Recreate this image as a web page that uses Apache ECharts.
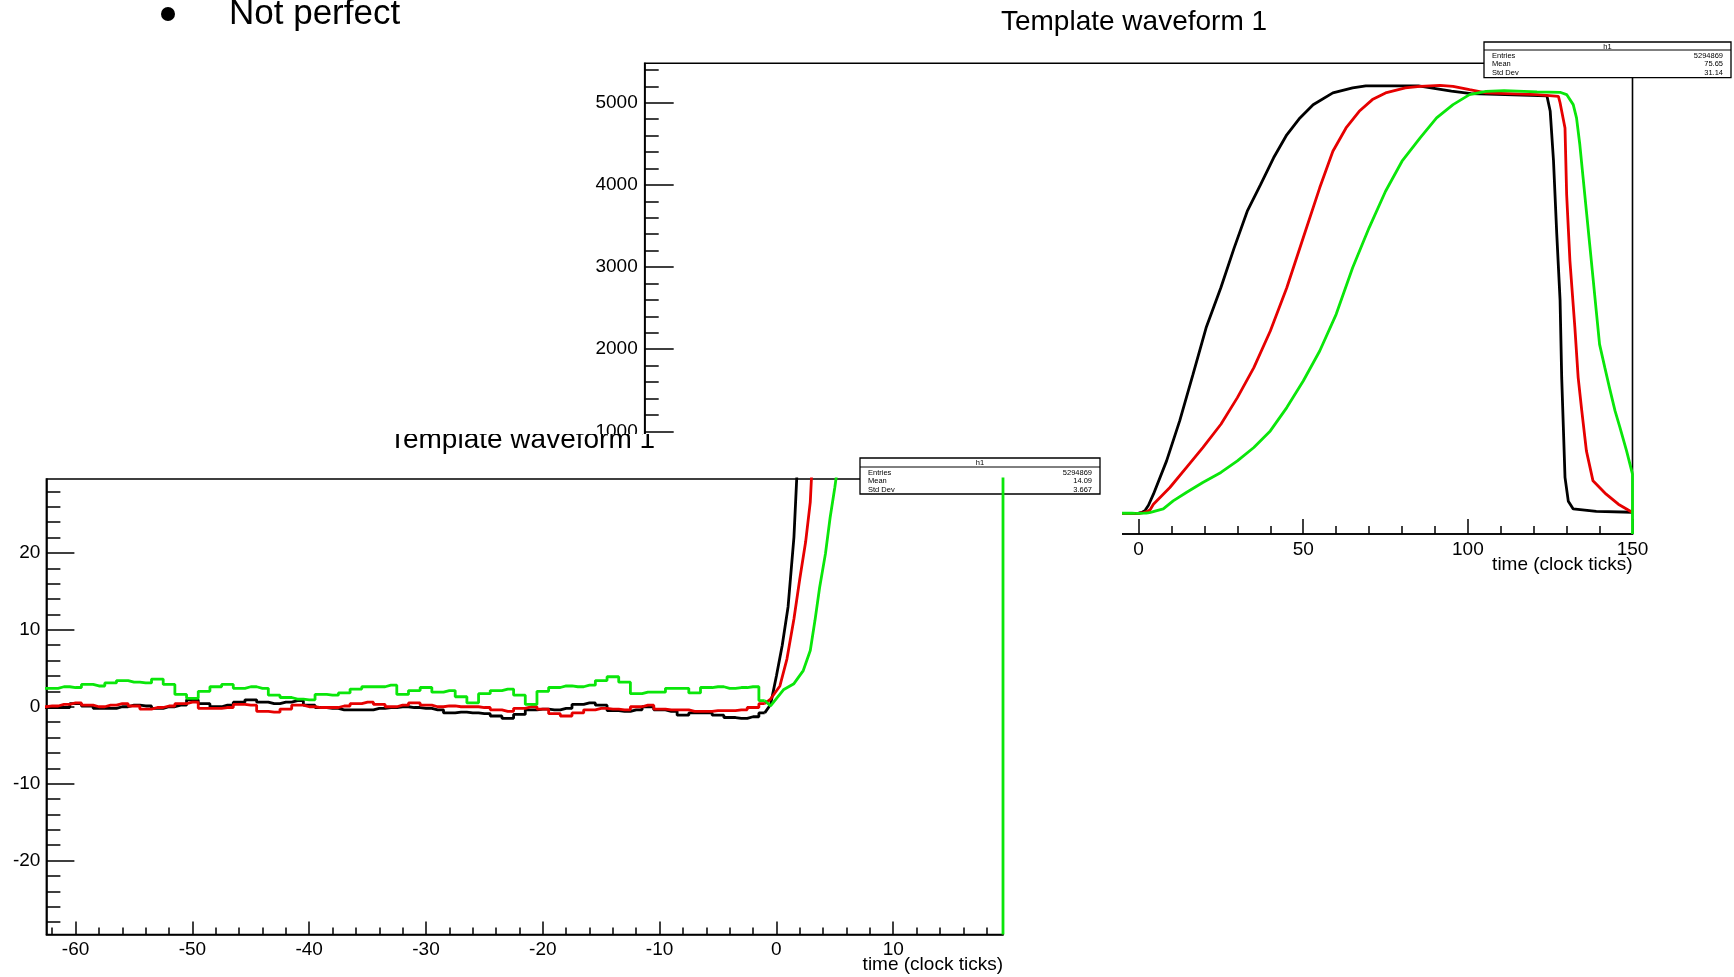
<!DOCTYPE html>
<html>
<head>
<meta charset="utf-8">
<script src="https://cdn.jsdelivr.net/npm/echarts@6/dist/echarts.min.js"></script>
<style>
  html, body { margin: 0; padding: 0; background: #ffffff; }
  #main { width: 1734px; height: 977px; }
</style>
</head>
<body>
<div id="main"></div>
<script>
// ---- waveform samples (time in clock ticks, amplitude in ADC counts) ----
const noiseTicks = [-63, -62, -61, -60, -59, -58, -57, -56, -55, -54, -53, -52, -51, -50, -49, -48,
  -47, -46, -45, -44, -43, -42, -41, -40, -39, -38, -37, -36, -35, -34, -33, -32, -31, -30, -29,
  -28, -27, -26, -25, -24, -23, -22, -21, -20, -19, -18, -17, -16, -15, -14, -13, -12, -11, -10,
  -9, -8, -7, -6, -5, -4, -3, -2, -1];

const blackNoise = [-0.1, -0.1, -0.1, 0.4, 0.1, -0.2, -0.2, 0.0, 0.2, 0.1,
  -0.2, 0.0, 0.2, 0.9, 0.4, 0.0, 0.2, 0.6, 0.9, 0.6,
  0.4, 0.6, 0.8, 0.2, -0.1, -0.2, -0.4, -0.4, -0.4, -0.2,
  -0.1, 0.0, -0.1, -0.2, -0.4, -0.8, -0.7, -0.8, -0.9, -1.2,
  -1.5, -1.0, -0.4, -0.3, -0.4, -0.2, 0.3, 0.5, 0.2, -0.5,
  -0.6, -0.4, 0.0, -0.4, -0.6, -1.1, -0.8, -0.8, -1.1, -1.4,
  -1.5, -1.3, -0.8];
const redNoise = [0.0, 0.1, 0.3, 0.5, 0.2, 0.0, 0.2, 0.4, 0.1, -0.3,
  -0.1, 0.1, 0.4, 0.6, -0.2, -0.2, -0.1, 0.3, 0.2, -0.6,
  -0.7, -0.3, 0.2, 0.0, -0.1, -0.1, 0.1, 0.4, 0.6, 0.3,
  0.0, 0.2, 0.5, 0.2, 0.0, 0.1, 0.0, 0.0, -0.1, -0.4,
  -0.6, -0.2, 0.0, -0.3, -0.9, -1.2, -0.8, -0.4, -0.2, -0.3,
  -0.4, 0.0, 0.2, -0.3, -0.4, -0.4, -0.6, -0.6, -0.5, -0.5,
  -0.4, -0.1, 0.4];
const greenNoise = [2.4, 2.4, 2.6, 2.5, 2.9, 2.7, 3.1, 3.4, 3.2, 3.1,
  3.6, 2.9, 1.6, 1.1, 2.0, 2.6, 2.9, 2.4, 2.6, 2.4,
  1.5, 1.2, 1.0, 0.9, 1.6, 1.5, 1.8, 2.3, 2.6, 2.6,
  2.8, 1.6, 2.1, 2.5, 1.9, 2.1, 1.3, 0.5, 1.7, 2.1,
  2.3, 1.5, 0.3, 2.0, 2.5, 2.7, 2.6, 2.8, 3.4, 3.9,
  3.2, 1.7, 1.9, 1.9, 2.4, 2.4, 1.8, 2.5, 2.6, 2.4,
  2.5, 2.6, 0.8];

const blackPulseT = [-0.5, 0, 0.5, 1, 1.5, 2, 3, 4.5, 8.5, 12.5, 16.5, 20.5, 25, 29, 33, 37, 41, 45, 49,
  53, 59, 65, 69, 85, 95, 101, 124, 125, 126, 127, 128, 128.5, 129, 129.5, 130.5, 132, 139, 150];
const blackPulseV = [0.3, 4, 8, 13, 22, 38, 100, 235, 640, 1130, 1690, 2260, 2750, 3230, 3680, 4000,
  4330, 4610, 4815, 4975, 5120, 5180, 5205, 5205, 5140, 5110, 5085, 4900, 4300, 3400, 2600, 1650,
  1050, 440, 150, 55, 25, 15];

const redPulseT = [-0.5, 0.3, 0.9, 1.5, 2, 2.5, 2.9, 3.5, 4.5, 9.5, 14.5, 19.5, 25, 30, 35, 40, 45, 50,
  55, 59, 63, 67, 71, 75, 81, 85.5, 91.5, 95.5, 100.5, 105.5, 121, 127.5, 128, 129.5, 130, 131, 132.5,
  133.5, 134.6, 136, 138, 142, 145.7, 150];
const redPulseV = [1.0, 2.7, 6.2, 11.4, 16.6, 21.4, 26.6, 45, 113, 316, 559, 802, 1086, 1410, 1775,
  2221, 2748, 3356, 3964, 4410, 4693, 4896, 5038, 5119, 5180, 5200, 5212, 5200, 5159, 5119, 5099,
  5078, 5000, 4693, 3883, 3072, 2262, 1654, 1248, 762, 397, 235, 113, 12];

const greenPulseT = [-0.5, 0.6, 1.5, 2.3, 2.9, 3.3, 3.7, 4.2, 4.6, 5.0, 5.5, 7.5, 10.5, 14.5, 19.5, 25,
  30, 35, 40, 45, 50, 55, 60, 65, 70, 75, 80, 85.5, 90.5, 95.5, 100.5, 105.5, 111, 121, 128, 130, 132,
  133, 134, 135, 136, 137, 138, 139, 140, 141.6, 143, 144.7, 146.2, 148.2, 150];
const greenPulseV = [0.1, 2.2, 3.0, 4.7, 7.3, 11.2, 15.5, 19.9, 24.6, 28.5, 34, 55, 154, 255, 377,
  499, 640, 803, 1005, 1289, 1613, 1978, 2424, 2991, 3477, 3923, 4288, 4572, 4815, 4977, 5099, 5139,
  5147, 5131, 5127, 5099, 4977, 4815, 4491, 4085, 3680, 3275, 2870, 2464, 2059, 1775, 1532, 1248,
  1046, 762, 478];

// ---- axis ranges and tick labels ----
const fullRange = { xMin: -150, xMax: 150, yMin: -250, yMax: 5480 };
const zoomRange = { xMin: -62.5, xMax: 19.4, yMin: -29.6, yMax: 29.6 };
const fullYMajor = [1000, 2000, 3000, 4000, 5000];
const fullYMinor = [-200, 200, 400, 600, 800, 1200, 1400, 1600, 1800, 2200, 2400, 2600, 2800, 3200,
  3400, 3600, 3800, 4200, 4400, 4600, 4800, 5200, 5400];
const zoomXMajor = [-60, -50, -40, -30, -20, -10, 0, 10];
const zoomXMinor = [-62, -58, -56, -54, -52, -48, -46, -44, -42, -38, -36, -34, -32, -28, -26, -24,
  -22, -18, -16, -14, -12, -8, -6, -4, -2, 2, 4, 6, 8, 12, 14, 16, 18];
const zoomYMajor = [-20, -10, 0, 10, 20];
const zoomYMinor = [-28, -26, -24, -22, -18, -16, -14, -12, -8, -6, -4, -2, 2, 4, 6, 8, 12, 14, 16, 18,
  22, 24, 26, 28];

const plotTitle = 'Template waveform 1';
const axisTitle = 'time (clock ticks)';
const bulletText = 'Not perfect';
const statsFull = { name: 'h1', entries: '5294869', mean: '75.65', stdDev: '31.14' };
const statsZoom = { name: 'h1', entries: '5294869', mean: '14.09', stdDev: '3.667' };

const FONT = '"Liberation Sans", Arial, Helvetica, sans-serif';
const COLORS = { black: '#000000', red: '#e60000', green: '#0ae60a' };

const traces = [
  { color: COLORS.black, noise: blackNoise, pt: blackPulseT, pv: blackPulseV, edgeDrop: false },
  { color: COLORS.red, noise: redNoise, pt: redPulseT, pv: redPulseV, edgeDrop: false },
  { color: COLORS.green, noise: greenNoise, pt: greenPulseT, pv: greenPulseV, edgeDrop: true }
];

function pairs(ts, vs) { return ts.map((t, i) => [t, vs[i]]); }

// histogram outline: for the last trace, ROOT closes the contour down to the frame floor at the right edge
function pulseData(tr, range) {
  const lastNoise = [noiseTicks[noiseTicks.length - 1], tr.noise[tr.noise.length - 1]];
  let pts = [lastNoise].concat(pairs(tr.pt, tr.pv));
  if (tr.edgeDrop) {
    const cut = tr.pt.findIndex(t => t > range.xMax);
    if (cut >= 0) {
      pts = [lastNoise].concat(pairs(tr.pt.slice(0, cut), tr.pv.slice(0, cut)));
      pts.push([range.xMax, tr.pv[cut]]);
    }
    pts.push([range.xMax, range.yMin]);
  }
  return pts;
}

const series = [];
traces.forEach(tr => {
  // full-range view
  series.push({ type: 'line', xAxisIndex: 0, yAxisIndex: 0, z: 2, step: 'middle',
    data: pairs(noiseTicks, tr.noise), showSymbol: false, symbol: 'none', silent: true,
    lineStyle: { color: tr.color, width: 2.8 } });
  series.push({ type: 'line', xAxisIndex: 0, yAxisIndex: 0, z: 2,
    data: pulseData(tr, fullRange), showSymbol: false, symbol: 'none', silent: true,
    lineStyle: { color: tr.color, width: 2.8 } });
});

// backdrop of the zoomed view with its (partly hidden) title
series.push({
  type: 'custom', xAxisIndex: 3, yAxisIndex: 4, z: 5, clip: true, silent: true,
  data: [[0, 0]],
  renderItem: function (params, api) {
    const cs = params.coordSys;
    return {
      type: 'group',
      children: [
        { type: 'rect', shape: { x: cs.x, y: cs.y, width: cs.width, height: cs.height },
          style: { fill: '#ffffff' } },
        { type: 'text', x: 522, y: 440,
          style: { text: plotTitle, fill: '#000', fontSize: 28, fontFamily: FONT,
            align: 'center', verticalAlign: 'middle', textAlign: 'center', textVerticalAlign: 'middle' } }
      ]
    };
  }
});

traces.forEach(tr => {
  // zoomed view around the pulse onset
  series.push({ type: 'line', xAxisIndex: 1, yAxisIndex: 2, z: 8, step: 'middle',
    data: pairs(noiseTicks, tr.noise), showSymbol: false, symbol: 'none', silent: true,
    lineStyle: { color: tr.color, width: 2.8 } });
  series.push({ type: 'line', xAxisIndex: 1, yAxisIndex: 2, z: 8,
    data: pulseData(tr, zoomRange), showSymbol: false, symbol: 'none', silent: true,
    lineStyle: { color: tr.color, width: 2.8 } });
});

const axisLine = { show: true, onZero: false, lineStyle: { color: '#000', width: 1.6 } };
const noLine = { show: false, onZero: false };
const plainNumber = v => String(v);
const labelStyle = { color: '#000', fontSize: 19, fontFamily: FONT, formatter: plainNumber };
const nameStyle = { color: '#000', fontSize: 19, fontFamily: FONT, align: 'right',
  verticalAlign: 'top', padding: [21, 0, 0, 0] };

function statsBox(x, y, w, h, head, s, z) {
  const left = x + 8, right = x + w - 8;
  const rowY = [y + head + 5.5, y + head + 14, y + head + 22.5];
  const txt = (t, tx, ty, al) => ({ type: 'text', z: z, x: tx, y: ty,
    style: { text: t, fill: '#000', fontSize: 7.5, fontFamily: FONT, align: al, verticalAlign: 'middle',
      textAlign: al, textVerticalAlign: 'middle' } });
  return [
    { type: 'rect', z: z, shape: { x: x, y: y, width: w, height: h },
      style: { fill: '#fff', stroke: '#000', lineWidth: 1.3 } },
    { type: 'line', z: z, shape: { x1: x, y1: y + head, x2: x + w, y2: y + head },
      style: { stroke: '#000', lineWidth: 1 } },
    txt(s.name, x + w / 2, y + head / 2 + 0.5, 'center'),
    txt('Entries', left, rowY[0], 'left'), txt(s.entries, right, rowY[0], 'right'),
    txt('Mean', left, rowY[1], 'left'), txt(s.mean, right, rowY[1], 'right'),
    txt('Std Dev', left, rowY[2], 'left'), txt(s.stdDev, right, rowY[2], 'right')
  ];
}

const option = {
  animation: false,
  backgroundColor: '#ffffff',
  grid: [
    { left: 644.7, top: 63.3, width: 987.8, height: 470.7, show: true, borderColor: '#000',
      borderWidth: 1.6, backgroundColor: 'transparent', outerBoundsMode: 'none', z: 0 },
    { left: 46.4, top: 479, width: 956.6, height: 455.5, show: true, borderColor: '#000',
      borderWidth: 1.6, backgroundColor: 'transparent', outerBoundsMode: 'none', z: 6 },
    { left: 0, top: 434, width: 1122, height: 543, show: false, outerBoundsMode: 'none' }
  ],
  xAxis: [
    { gridIndex: 0, type: 'value', min: fullRange.xMin, max: fullRange.xMax, interval: 50,
      position: 'bottom', axisLine: axisLine, splitLine: { show: false },
      axisTick: { inside: true, length: 15, lineStyle: { color: '#000', width: 1.5 } },
      minorTick: { show: true, splitNumber: 5, length: 8, lineStyle: { color: '#000', width: 1.5 } },
      axisLabel: Object.assign({ margin: 6 }, labelStyle),
      name: axisTitle, nameLocation: 'end', nameGap: 0, nameMoveOverlap: false,
      nameTextStyle: nameStyle },
    { gridIndex: 1, type: 'value', min: zoomRange.xMin, max: zoomRange.xMax, z: 6,
      position: 'bottom', axisLine: axisLine, splitLine: { show: false },
      axisTick: { inside: true, length: 13, customValues: zoomXMajor,
        lineStyle: { color: '#000', width: 1.5 } },
      axisLabel: Object.assign({ margin: 6, customValues: zoomXMajor }, labelStyle),
      name: axisTitle, nameLocation: 'end', nameGap: 0, nameMoveOverlap: false,
      nameTextStyle: nameStyle },
    { gridIndex: 1, type: 'value', min: zoomRange.xMin, max: zoomRange.xMax, z: 6,
      position: 'bottom', axisLine: noLine, splitLine: { show: false }, axisLabel: { show: false },
      axisTick: { inside: true, length: 7, customValues: zoomXMinor,
        lineStyle: { color: '#000', width: 1.5 } } },
    { gridIndex: 2, type: 'value', min: 0, max: 1, show: false }
  ],
  yAxis: [
    { gridIndex: 0, type: 'value', min: fullRange.yMin, max: fullRange.yMax,
      position: 'left', axisLine: axisLine, splitLine: { show: false },
      axisTick: { inside: true, length: 29, customValues: fullYMajor,
        lineStyle: { color: '#000', width: 1.5 } },
      axisLabel: Object.assign({ margin: 7, customValues: fullYMajor }, labelStyle) },
    { gridIndex: 0, type: 'value', min: fullRange.yMin, max: fullRange.yMax,
      position: 'left', axisLine: noLine, splitLine: { show: false }, axisLabel: { show: false },
      axisTick: { inside: true, length: 14, customValues: fullYMinor,
        lineStyle: { color: '#000', width: 1.5 } } },
    { gridIndex: 1, type: 'value', min: zoomRange.yMin, max: zoomRange.yMax, z: 6,
      position: 'left', axisLine: axisLine, splitLine: { show: false },
      axisTick: { inside: true, length: 28, customValues: zoomYMajor,
        lineStyle: { color: '#000', width: 1.5 } },
      axisLabel: Object.assign({ margin: 6, customValues: zoomYMajor }, labelStyle) },
    { gridIndex: 1, type: 'value', min: zoomRange.yMin, max: zoomRange.yMax, z: 6,
      position: 'left', axisLine: noLine, splitLine: { show: false }, axisLabel: { show: false },
      axisTick: { inside: true, length: 14, customValues: zoomYMinor,
        lineStyle: { color: '#000', width: 1.5 } } },
    { gridIndex: 2, type: 'value', min: 0, max: 1, show: false }
  ],
  graphic: {
    elements: [
      { type: 'circle', z: 20, shape: { cx: 168, cy: 14, r: 7 }, style: { fill: '#000' } },
      { type: 'text', z: 20, x: 229, y: 14,
        style: { text: bulletText, fill: '#000', fontSize: 35, fontFamily: FONT,
          align: 'left', verticalAlign: 'middle', textAlign: 'left', textVerticalAlign: 'middle' } },
      { type: 'text', z: 20, x: 1134, y: 22,
        style: { text: plotTitle, fill: '#000', fontSize: 28, fontFamily: FONT,
          align: 'center', verticalAlign: 'middle', textAlign: 'center', textVerticalAlign: 'middle' } }
    ].concat(statsBox(1484, 42, 247, 35.7, 8, statsFull, 20))
     .concat(statsBox(860, 458, 240, 36, 9, statsZoom, 7))
  },
  series: series
};

const chart = echarts.init(document.getElementById('main'), null, { renderer: 'canvas' });
chart.setOption(option);
</script>
</body>
</html>
